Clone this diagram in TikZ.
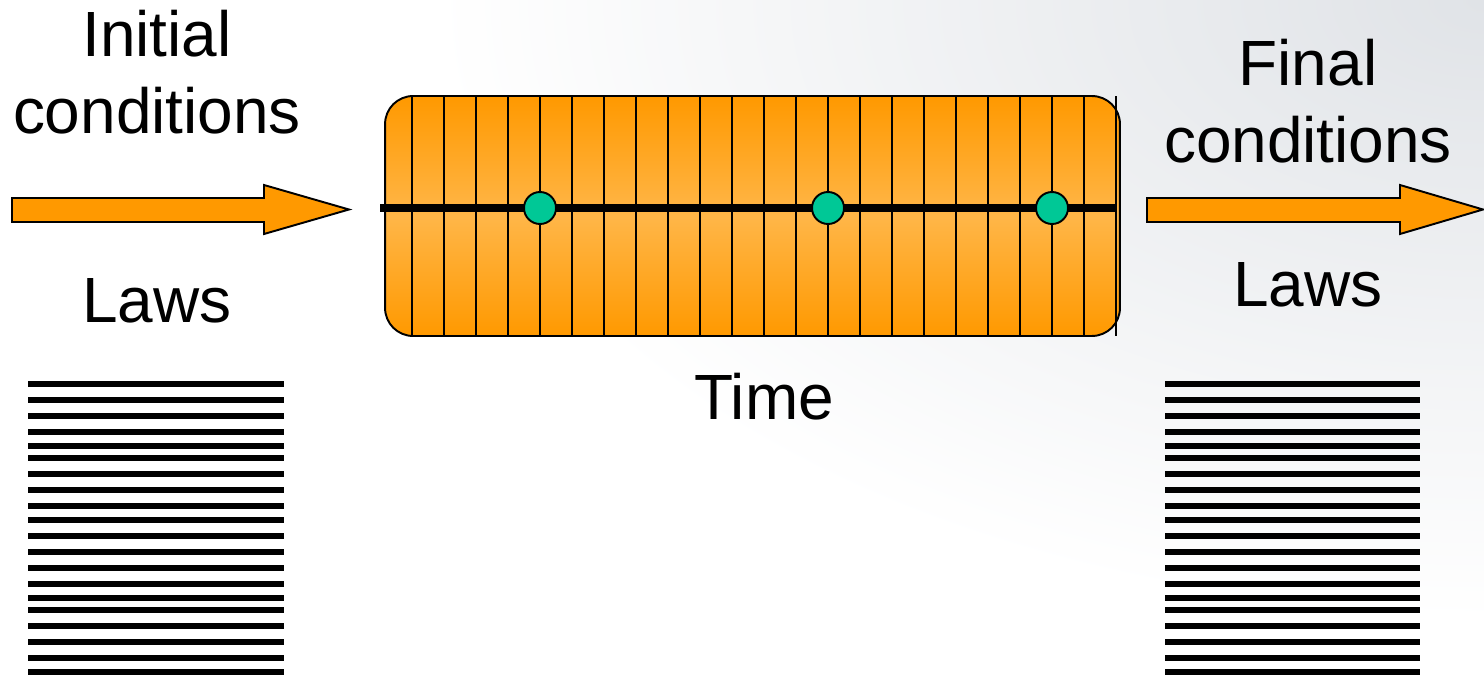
\documentclass[tikz,border=0pt]{standalone}
\usepackage{fontspec}
\setmainfont{Liberation Sans}
\usetikzlibrary{positioning, calc}

\definecolor{boxorange}{RGB}{255,153,0}
\definecolor{lightorange}{RGB}{255,182,72}
\definecolor{eventgreen}{RGB}{0,200,150}
\definecolor{haze}{RGB}{224,227,231}

\begin{document}
\begin{tikzpicture}[
        x=0.02cm, y=-0.02cm,
        word/.style={font=\fontsize{36.4}{43.5}\selectfont, align=center, inner sep=0pt},
        timebox/.style={draw=black, line width=1.1pt, rounded corners=0.56cm, top color=boxorange, bottom color=boxorange, middle color=lightorange, minimum width=14.7cm, minimum height=4.8cm, inner sep=0pt},
        blockarrow/.style={draw=black, line width=1.1pt, fill=boxorange, line join=miter},
        tick/.style={black, line width=1.1pt},
        timeline/.style={black, line width=4.4pt},
        event/.style={circle, draw=black, line width=1.1pt, fill=eventgreen, minimum size=0.64cm, inner sep=0pt},
        stripe/.style={black, line width=3.4pt}
    ]

    \useasboundingbox (0,0) rectangle (1484,676);

    % soft grey glow from the top right corner
    \begin{scope}
        \clip (0,0) rectangle (1484,676);
        \fill[white] (0,0) rectangle (1484,676);
        \shade[inner color=haze, outer color=white] (1484,0) ellipse [x radius=1050, y radius=620];
    \end{scope}

    % labels (base is the last line)
    \node[word, anchor=base] (initial) at (157,133) {Initial\\conditions};
    \node[word, anchor=base] (lawsleft) at (157,322) {Laws};
    \node[word, anchor=base] (final) at (1308,162) {Final\\conditions};
    \node[word, anchor=base] (lawsright) at (1308,306) {Laws};
    \node[word, anchor=base] (time) at (764,419) {Time};

    % the block of time slices
    \node[timebox] (slices) at (752.5,216) {};
    \foreach \x in {412,444,...,1116}
        \draw[tick] (\x,96) -- (\x,336);

    \coordinate (tstart) at (380,208);
    \coordinate (tend) at (1115,208);
    \draw[timeline] (tstart) -- (tend);

    \node[event] (ev1) at (540,208) {};
    \node[event] (ev2) at (828,208) {};
    \node[event] (ev3) at (1052,208) {};

    % in and out arrows
    \draw[blockarrow] (12,198) -- (264,198) -- (264,185) -- (349,209.5) -- (264,234) -- (264,222) -- (12,222) -- cycle;
    \draw[blockarrow] (1147,198) -- (1400,198) -- (1400,185) -- (1483,209.5) -- (1400,234) -- (1400,222) -- (1147,222) -- cycle;

    % the laws, as bars
    \foreach \y in {384,400,416,432,446,458,474,490,506,520,536,552,568,584,598,610,626,642,658,672} {
        \draw[stripe] (28,\y) -- (284,\y);
        \draw[stripe] (1165,\y) -- (1420,\y);
    }

\end{tikzpicture}
\end{document}
